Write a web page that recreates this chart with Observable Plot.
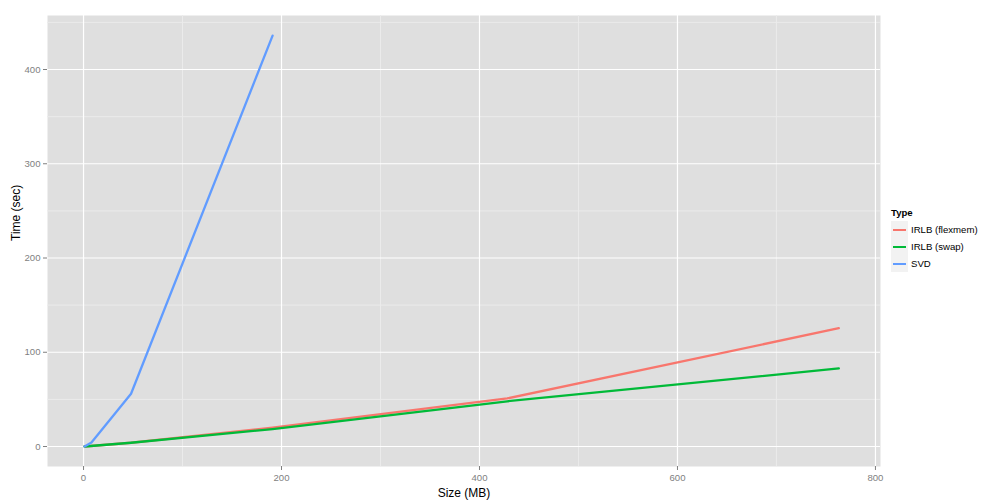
<!DOCTYPE html>
<html>
<head>
<meta charset="utf-8">
<script src="https://cdn.jsdelivr.net/npm/d3@7"></script>
<script src="https://cdn.jsdelivr.net/npm/@observablehq/plot@0.6"></script>
<style>
  html, body { margin: 0; padding: 0; background: #fff; }
  #wrap { position: relative; width: 1008px; height: 504px; font-family: "Liberation Sans", Arial, Helvetica, sans-serif; }
  #chart { position: absolute; left: 0; top: 0; }
  #legend { position: absolute; left: 891px; top: 207px; font-size: 9.6px; color: #000; }
  #legend .title { font-weight: bold; margin-bottom: 3px; }
  #legend .row { display: flex; align-items: center; height: 17px; }
  #legend .key { width: 17px; height: 17px; background: #F2F2F2; position: relative; margin-right: 3px; }
  #legend .key span { position: absolute; left: 2px; right: 2px; top: 7.5px; height: 2px; }
</style>
</head>
<body>
<div id="wrap">
  <div id="chart"></div>
  <div id="legend"></div>
</div>
<script>
// Data
const seriesNames = ["IRLB (flexmem)", "IRLB (swap)", "SVD"];
const seriesColors = ["#F8766D", "#00BA38", "#619CFF"];
const flexmemSize = [1, 48, 191, 428, 763];
const flexmemTime = [0, 4, 20, 51, 125.5];
const swapSize = [1, 48, 191, 428, 763];
const swapTime = [0, 4, 18.5, 48, 82.8];
const svdSize = [1, 8, 48, 191];
const svdTime = [0, 4.2, 56, 436];
const xMajorTicks = [0, 200, 400, 600, 800];
const xMinorTicks = [100, 300, 500, 700];
const yMajorTicks = [0, 100, 200, 300, 400];
const yMinorTicks = [50, 150, 250, 350, 450];

const rows = [];
flexmemSize.forEach((s, i) => rows.push({type: seriesNames[0], size: s, time: flexmemTime[i]}));
swapSize.forEach((s, i) => rows.push({type: seriesNames[1], size: s, time: swapTime[i]}));
svdSize.forEach((s, i) => rows.push({type: seriesNames[2], size: s, time: svdTime[i]}));

const chart = Plot.plot({
  width: 900,
  height: 504,
  marginLeft: 47,
  marginRight: 20,
  marginTop: 15,
  marginBottom: 38,
  style: {fontFamily: "'Liberation Sans', Arial, Helvetica, sans-serif", background: "transparent"},
  x: {domain: [-36.4, 805.1]},
  y: {domain: [-21.2, 457.3]},
  color: {domain: seriesNames, range: seriesColors},
  marks: [
    Plot.frame({fill: "#DFDFDF", stroke: null}),
    Plot.ruleX(xMinorTicks, {stroke: "#EBEBEB", strokeWidth: 1}),
    Plot.ruleY(yMinorTicks, {stroke: "#EBEBEB", strokeWidth: 1}),
    Plot.ruleX(xMajorTicks, {stroke: "#FFFFFF", strokeWidth: 1.2}),
    Plot.ruleY(yMajorTicks, {stroke: "#FFFFFF", strokeWidth: 1.2}),
    Plot.line(rows, {x: "size", y: "time", z: "type", stroke: "type", strokeWidth: 2.3}),
    Plot.axisX({ticks: xMajorTicks, tickSize: 4, tickPadding: 4, stroke: "#7F7F7F", color: "#7F7F7F", fontSize: 9.6,
      label: "Size (MB)", labelArrow: "none", labelAnchor: "center", labelOffset: 30}),
    Plot.axisY({ticks: yMajorTicks, tickSize: 4, tickPadding: 3, stroke: "#7F7F7F", color: "#7F7F7F", fontSize: 9.6,
      label: null}),
    Plot.text(["Time (sec)"], {frameAnchor: "left", dx: -31, rotate: -90, fontSize: 12, fill: "#000"})
  ]
});
chart.querySelectorAll("g[aria-label='x-axis label'] text").forEach(t => { t.setAttribute("fill", "#000"); t.setAttribute("font-size", 12); });
document.getElementById("chart").appendChild(chart);

const legend = document.getElementById("legend");
const title = document.createElement("div");
title.className = "title";
title.textContent = "Type";
legend.appendChild(title);
seriesNames.forEach((name, i) => {
  const row = document.createElement("div");
  row.className = "row";
  const key = document.createElement("div");
  key.className = "key";
  const line = document.createElement("span");
  line.style.background = seriesColors[i];
  key.appendChild(line);
  const label = document.createElement("div");
  label.textContent = name;
  row.appendChild(key);
  row.appendChild(label);
  legend.appendChild(row);
});
</script>
</body>
</html>
